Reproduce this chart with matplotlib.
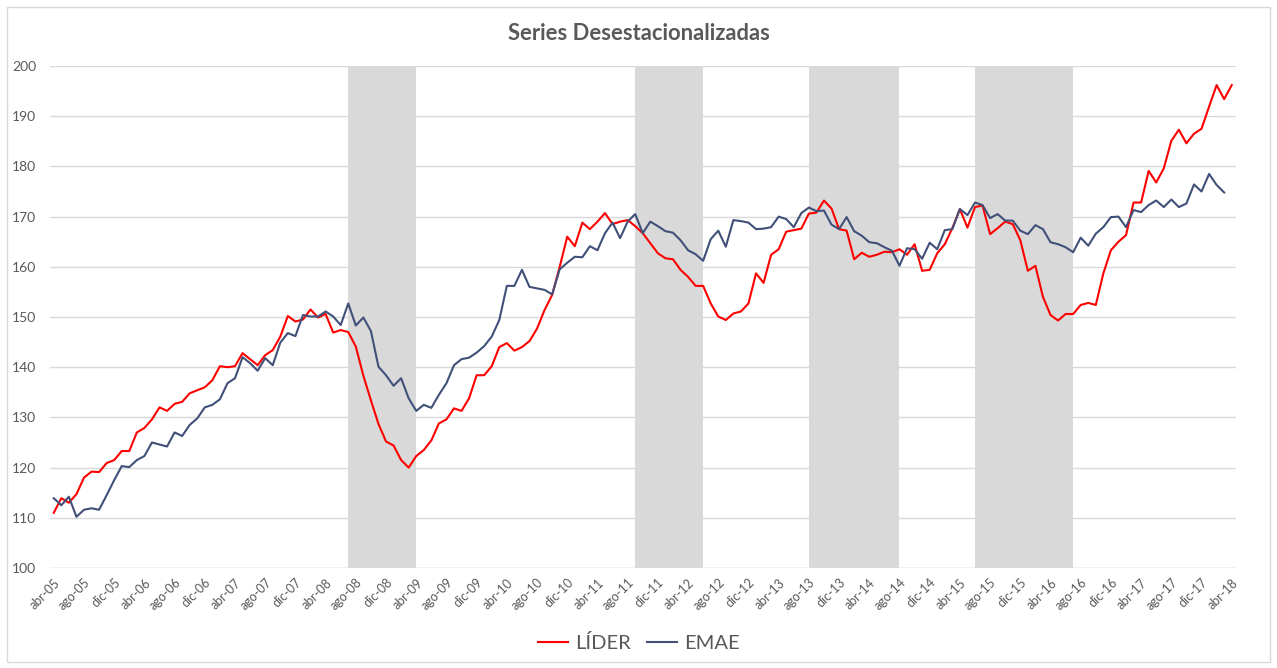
import matplotlib
matplotlib.use('Agg')
import matplotlib.pyplot as plt
from matplotlib.patches import Rectangle

plt.rcParams['font.family'] = ['Lato', 'DejaVu Sans']

# monthly series, abr-05 .. abr-18
meses = ['ene', 'feb', 'mar', 'abr', 'may', 'jun', 'jul', 'ago', 'sep', 'oct', 'nov', 'dic']
fechas = []
for k in range(157):
    m = 3 + k
    fechas.append('%s-%02d' % (meses[m % 12], 5 + m // 12))

lider = [111.0, 113.9, 113.0, 114.7, 118.0, 119.2, 119.1, 120.9, 121.5, 123.3,
         123.3, 127.0, 127.9, 129.6, 132.0, 131.3, 132.7, 133.1, 134.8, 135.4,
         136.0, 137.4, 140.2, 140.0, 140.2, 142.8, 141.6, 140.4, 142.4, 143.4,
         146.1, 150.2, 149.1, 149.5, 151.5, 149.9, 150.6, 146.9, 147.4, 147.0,
         144.1, 138.3, 133.4, 128.7, 125.2, 124.4, 121.5, 120.0, 122.3, 123.5,
         125.4, 128.8, 129.6, 131.8, 131.3, 133.8, 138.4, 138.4, 140.2, 144.0,
         144.8, 143.3, 144.0, 145.2, 147.7, 151.4, 154.4, 160.0, 166.0, 164.1,
         168.8, 167.5, 169.0, 170.7, 168.5, 169.0, 169.3, 168.1, 166.7, 164.7,
         162.7, 161.7, 161.5, 159.4, 158.0, 156.2, 156.2, 152.7, 150.1, 149.4,
         150.7, 151.1, 152.7, 158.7, 156.8, 162.4, 163.5, 167.0, 167.3, 167.6,
         170.6, 170.8, 173.2, 171.6, 167.5, 167.2, 161.5, 162.8, 162.0, 162.4,
         163.0, 162.9, 163.5, 162.4, 164.5, 159.2, 159.4, 162.7, 164.5, 167.7,
         171.5, 167.8, 171.9, 172.2, 166.5, 167.7, 169.0, 168.5, 165.3, 159.2,
         160.2, 154.0, 150.4, 149.3, 150.6, 150.6, 152.4, 152.8, 152.4, 158.7,
         163.3, 165.0, 166.3, 172.8, 172.8, 179.1, 176.8, 179.6, 185.1, 187.3,
         184.6, 186.5, 187.5, 191.9, 196.2, 193.4, 196.2]

emae = [113.9, 112.5, 114.2, 110.2, 111.6, 111.9, 111.6, 114.5, 117.5, 120.3,
        120.1, 121.5, 122.3, 125.0, 124.6, 124.2, 127.0, 126.3, 128.5, 129.8,
        132.0, 132.5, 133.6, 136.8, 137.8, 142.0, 140.8, 139.3, 141.8, 140.4,
        144.9, 146.8, 146.2, 150.4, 150.1, 150.1, 151.1, 150.1, 148.4, 152.7,
        148.3, 149.9, 147.2, 140.1, 138.4, 136.3, 137.8, 133.8, 131.3, 132.5,
        131.9, 134.5, 136.8, 140.4, 141.6, 141.9, 142.9, 144.2, 146.1, 149.4,
        156.2, 156.2, 159.4, 156.0, 155.7, 155.4, 154.5, 159.5, 160.8, 162.0,
        161.9, 164.1, 163.3, 166.7, 168.8, 165.7, 169.0, 170.5, 166.7, 169.0,
        168.1, 167.1, 166.8, 165.3, 163.3, 162.5, 161.2, 165.5, 167.2, 164.0,
        169.3, 169.1, 168.8, 167.5, 167.6, 167.9, 170.0, 169.5, 167.9, 170.7,
        171.8, 171.1, 171.2, 168.4, 167.5, 169.9, 167.1, 166.2, 164.9, 164.7,
        163.9, 163.2, 160.2, 163.7, 163.5, 161.6, 164.8, 163.5, 167.3, 167.5,
        171.5, 170.3, 172.8, 172.3, 169.7, 170.5, 169.2, 169.2, 167.2, 166.5,
        168.3, 167.5, 164.9, 164.5, 163.9, 162.9, 165.8, 164.2, 166.6, 167.9,
        169.9, 170.0, 167.9, 171.3, 170.9, 172.3, 173.2, 171.9, 173.4, 171.9,
        172.6, 176.4, 175.0, 178.5, 176.3, 174.8]

# shaded periods (start, end)
periodos = [('jul-08', 'abr-09'), ('sep-11', 'jun-12'), ('ago-13', 'ago-14'), ('jun-15', 'jul-16')]

fig = plt.figure(figsize=(12.77, 6.68), dpi=100)
ax = fig.add_axes([50 / 1277, 1 - 568 / 668, 1185.5 / 1277, 502 / 668])

for ini, fin in periodos:
    ax.axvspan(fechas.index(ini), fechas.index(fin), color='#D9D9D9', lw=0, zorder=1)

ax.plot(range(len(lider)), lider, color='#FF0000', lw=1.5, label='LÍDER', zorder=3)
ax.plot(range(len(emae)), emae, color='#415079', lw=1.5, label='EMAE', zorder=3)

ax.set_xlim(-0.5, 156.5)
ax.set_ylim(100, 200)
ax.set_yticks(range(100, 201, 10))
ax.yaxis.grid(True, color='#D9D9D9', lw=1)
ax.set_axisbelow(True)
for s in ax.spines.values():
    s.set_visible(False)
ax.axhline(100, color='#D9D9D9', lw=1, zorder=0)

ticks = list(range(0, 157, 4))
ax.set_xticks(ticks)
ax.set_xticklabels([fechas[t] for t in ticks], rotation=45, ha='right',
                   rotation_mode='anchor', fontsize=9, color='#595959')
ax.tick_params(axis='both', length=0)
ax.tick_params(axis='x', pad=6)
ax.tick_params(axis='y', pad=10, labelsize=10, labelcolor='#595959')

fig.text(0.5, 1 - 34 / 668, 'Series Desestacionalizadas', ha='center', va='center',
         fontsize=15.8, fontweight='bold', color='#595959')

fig.legend(loc='center', bbox_to_anchor=(0.5, 1 - 643 / 668), ncol=2, frameon=False,
           fontsize=14.5, labelcolor='#595959', handlelength=1.5,
           handletextpad=0.35, columnspacing=0.8)

fig.patches.append(Rectangle((7 / 1277, 6 / 668), 1263 / 1277, 655 / 668,
                             transform=fig.transFigure, fill=False,
                             edgecolor='#D9D9D9', lw=1))

fig.savefig('out.png', dpi=100)
print('done')
